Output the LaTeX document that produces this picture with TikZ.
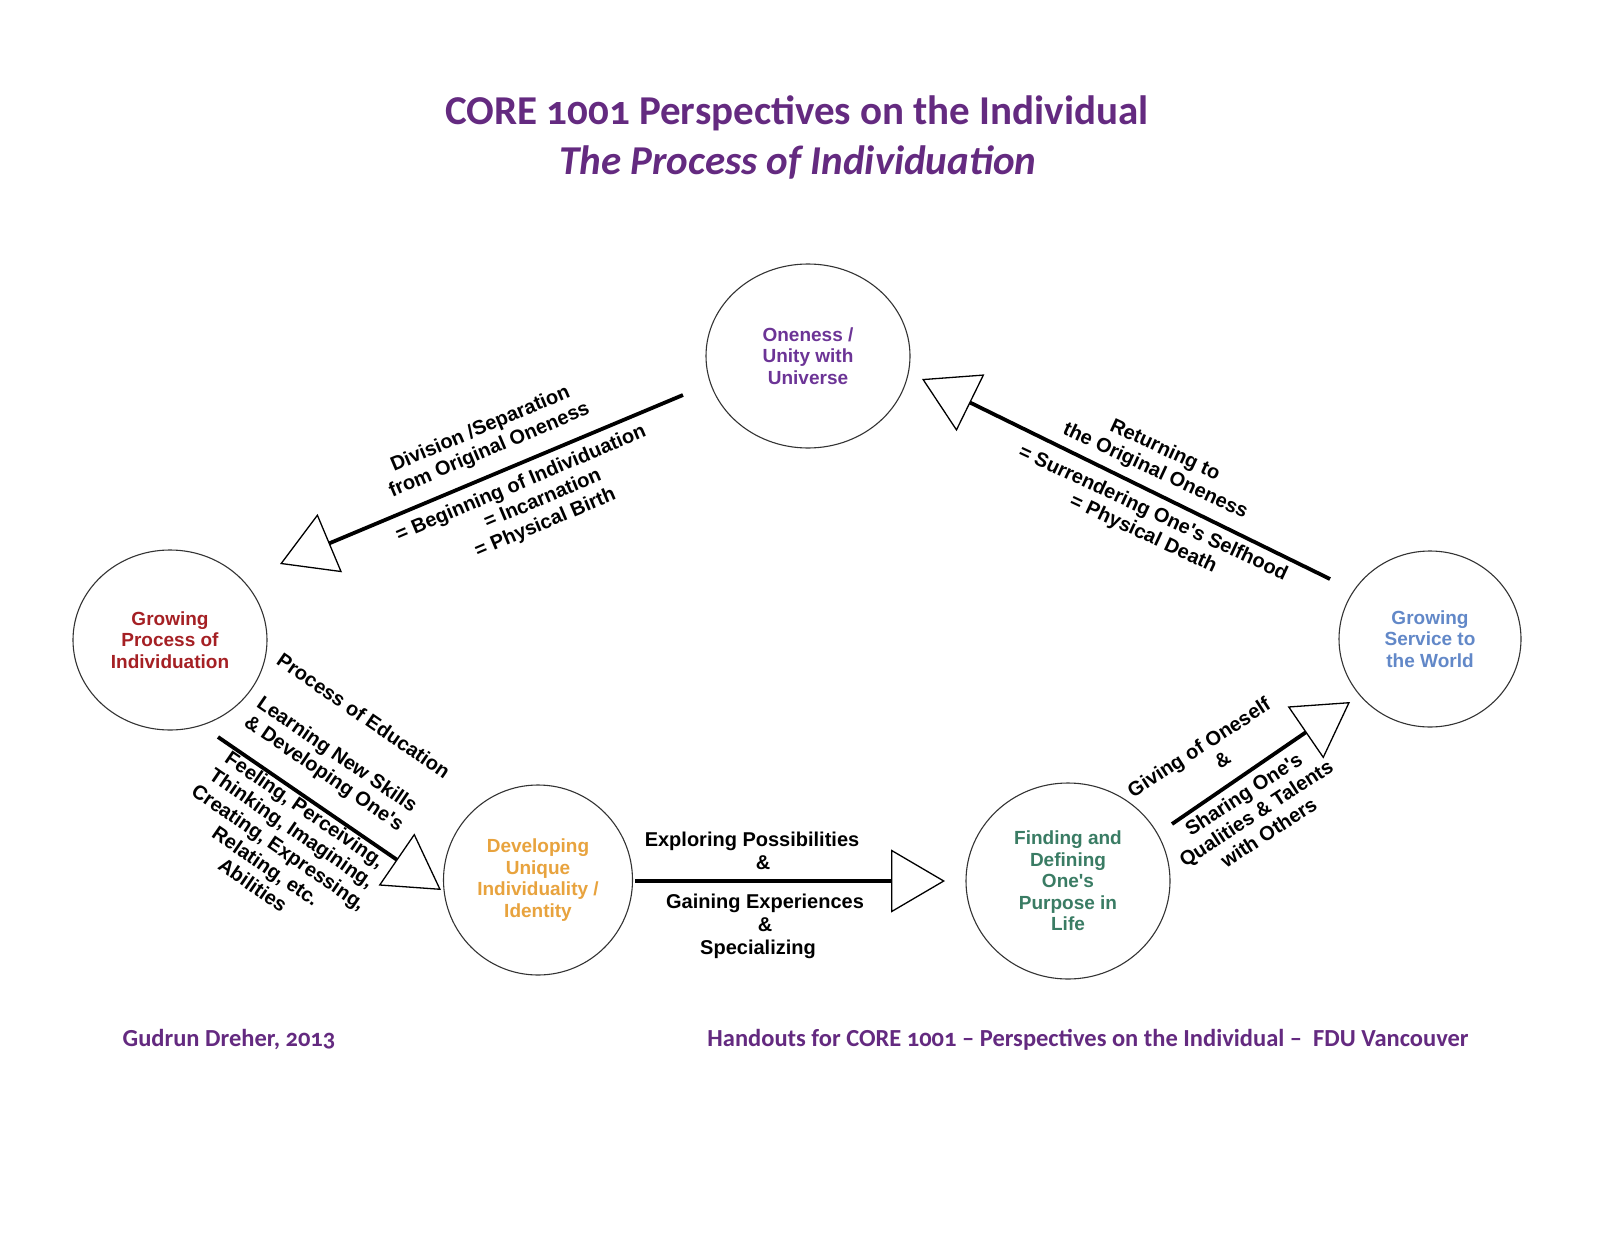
\documentclass[tikz,border=0pt]{standalone}
\usepackage{fontspec}
\setmainfont{Liberation Sans}
\newfontfamily\titlefont{Carlito}[Numbers=OldStyle]
\usetikzlibrary{arrows.meta,shapes.geometric}
\definecolor{cTitle}{RGB}{100,42,128}
\definecolor{cOne}{RGB}{108,52,150}
\definecolor{cGrow}{RGB}{165,32,36}
\definecolor{cServ}{RGB}{98,136,200}
\definecolor{cDev}{RGB}{232,163,62}
\definecolor{cFind}{RGB}{58,124,100}
\begin{document}
\begin{tikzpicture}[x=1pt,y=-1pt,
  bubble/.style={ellipse, draw=black!80, line width=1.1pt, inner sep=0pt, align=center,
    font=\fontsize{19}{21.5}\selectfont\bfseries},
  lab/.style={align=center, inner sep=0pt, font=\fontsize{20}{23}\selectfont\bfseries},
  conn/.style={line width=3.8pt, -{Triangle[open, width=63pt, length=54pt, line width=1.3pt]}},
  ttl/.style={text=cTitle, inner sep=0pt, font=\titlefont\fontsize{41}{45}\selectfont\bfseries},
  foot/.style={text=cTitle, inner sep=0pt, font=\titlefont\fontsize{24.5}{28}\selectfont\bfseries}]
\path[use as bounding box, fill=white] (0,0) rectangle (1600,1236);

% titles
\node[ttl] (t1) at (797,113) {CORE 1001 Perspectives on the Individual};
\node[ttl] (t2) at (798,162) {\itshape The Process of Individuation};

% bubbles
\node[bubble, minimum width=204pt, minimum height=184pt, text=cOne] (one) at (808,356) {Oneness /\\Unity with\\Universe};
\node[bubble, minimum width=194pt, minimum height=180pt, text=cGrow] (grow) at (170,640) {Growing\\Process of\\Individuation};
\node[bubble, minimum width=182pt, minimum height=176pt, text=cServ] (serv) at (1430,639) {Growing\\Service to\\the World};
\node[bubble, minimum width=189pt, minimum height=190pt, text=cDev] (dev) at (538,880) {Developing\\Unique\\Individuality /\\Identity};
\node[bubble, minimum width=204pt, minimum height=196pt, text=cFind] (find) at (1068,881) {Finding and\\Defining\\One\textquotesingle s\\Purpose in\\Life};

% connector ends
\coordinate (c1s) at (683,395); \coordinate (c1e) at (280,564);
\coordinate (c2s) at (1330,579); \coordinate (c2e) at (922,379);
\coordinate (c3s) at (218,737); \coordinate (c3e) at (441,890);
\coordinate (c4s) at (635,881); \coordinate (c4e) at (945,881);
\coordinate (c5s) at (1172,824); \coordinate (c5e) at (1350,702);

\draw[conn] (c1s) -- (c1e);
\draw[conn] (c2s) -- (c2e);
\draw[conn] (c3s) -- (c3e);
\draw[conn] (c4s) -- (c4e);
\draw[conn] (c5s) -- (c5e);

% labels
\node[lab, rotate=23] (l1a) at (485,440) {Division /Separation\\from Original Oneness};
\node[lab, rotate=23] (l1b) at (530,505) {= Beginning of Individuation\\\hspace*{28pt}= Incarnation\\\hspace*{14pt}= Physical Birth};
\node[lab, rotate=-25] (l2a) at (1160,461) {Returning to\\the Original Oneness};
\node[lab, rotate=-25] (l2b) at (1148,524) {= Surrendering One\textquotesingle s Selfhood\\= Physical Death};
\node[lab, rotate=-34.5] (l3a) at (343,746) {Process of Education\\[23pt]Learning New Skills\\\& Developing One\textquotesingle s};
\node[lab, rotate=-34.5] (l3b) at (279,847) {Feeling, Perceiving,\\Thinking, Imagining,\\Creating, Expressing,\\Relating, etc.\\Abilities};
\node[lab] (l4a) at (752,851) {Exploring Possibilities\\\hspace*{22pt}\&};
\node[lab] (l4b) at (765,926) {Gaining Experiences\\\&\\Specializing\hspace*{14pt}};
\node[lab, rotate=33] (l5a) at (1205,757) {Giving of Oneself\\\hspace*{26pt}\&};
\node[lab, rotate=33] (l5b) at (1256,813) {Sharing One\textquotesingle s\\Qualities \& Talents\\with Others};

% footer
\node[foot] (f1) at (229,1040) {Gudrun Dreher, 2013};
\node[foot] (f2) at (1088,1040) {Handouts for CORE 1001 – Perspectives on the Individual –\ \ FDU Vancouver};
\end{tikzpicture}
\end{document}
